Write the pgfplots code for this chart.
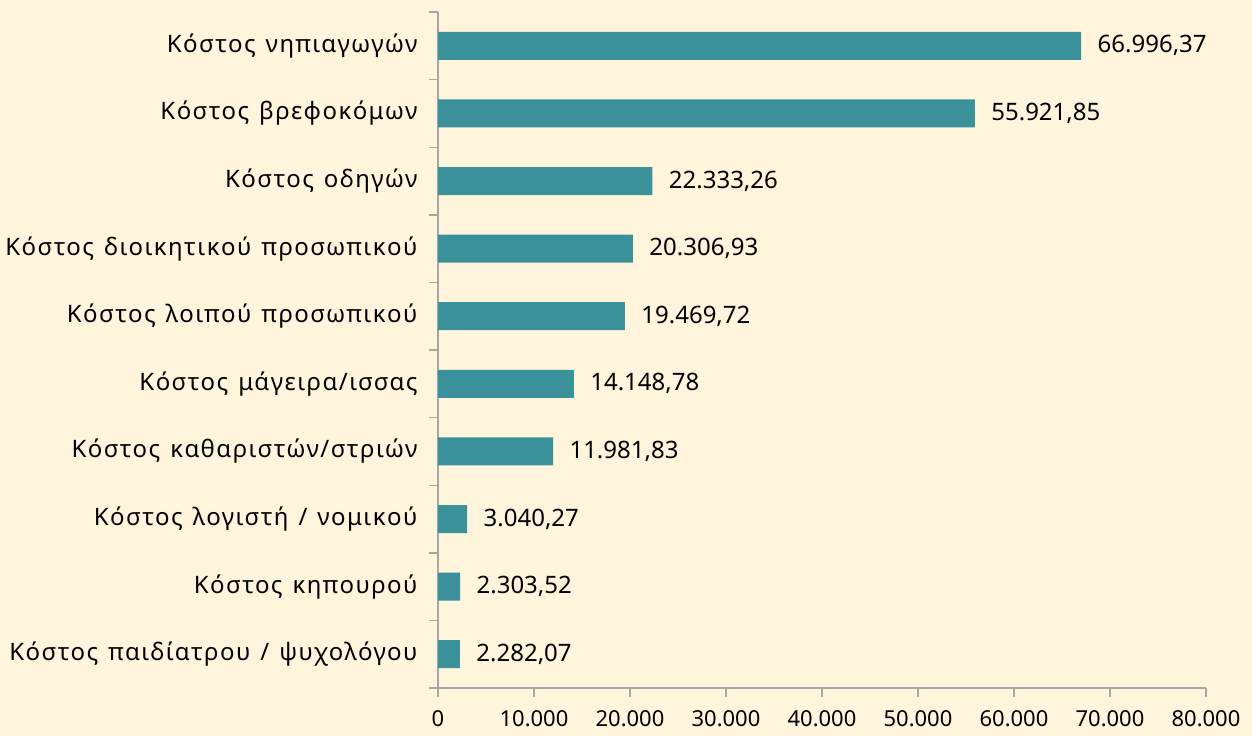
\documentclass[border=0pt]{standalone}
\usepackage{fontspec}
\setmainfont{Noto Sans}
\newfontfamily\labfont{Noto Sans}[LetterSpace=6,WordSpace=1.3]
\usepackage{pgfplots}
\pgfplotsset{compat=1.18}
\usepackage{pgfplotstable}
\definecolor{bg}{HTML}{FFF4DC}
\definecolor{barc}{HTML}{3A9199}
\definecolor{axc}{HTML}{A6A6A6}
\pgfplotstableread[col sep=comma]{
val,pos,lab
66996.37,0,{66.996,37}
55921.85,1,{55.921,85}
22333.26,2,{22.333,26}
20306.93,3,{20.306,93}
19469.72,4,{19.469,72}
14148.78,5,{14.148,78}
11981.83,6,{11.981,83}
3040.27,7,{3.040,27}
2303.52,8,{2.303,52}
2282.07,9,{2.282,07}
}\datatable
\begin{document}
\begin{tikzpicture}
\fill[bg] (-438bp,-48bp) rectangle (814bp,688bp);
\begin{axis}[
  at={(0,0)}, anchor=south west,
  scale only axis, width=768bp, height=676bp,
  xmin=0, xmax=80000, ymin=-0.5, ymax=9.5, y dir=reverse,
  axis x line*=bottom, axis y line*=left,
  axis line style={axc, line width=1.4bp, -},
  xtick={0,10000,...,80000},
  xticklabels={0,10.000,20.000,30.000,40.000,50.000,60.000,70.000,80.000},
  scaled x ticks=false,
  ytick={0,...,9},
  yticklabels={Κόστος νηπιαγωγών,Κόστος βρεφοκόμων,Κόστος οδηγών,Κόστος διοικητικού προσωπικού,Κόστος λοιπού προσωπικού,Κόστος μάγειρα/ισσας,Κόστος καθαριστών/στριών,Κόστος λογιστή / νομικού,Κόστος κηπουρού,Κόστος παιδίατρου / ψυχολόγου},
  minor ytick={-0.5,0.5,...,9.5},
  tick align=outside,
  major tick length=9bp, minor tick length=9bp,
  tick style={axc, line width=1.4bp},
  major y tick style={draw=none},
  xticklabel style={font=\fontsize{22bp}{26bp}\selectfont, text=black, yshift=-10bp},
  yticklabel style={font=\labfont\fontsize{24bp}{28bp}\selectfont, text=black, xshift=-8bp},
  xbar, bar width=28bp,
  point meta=explicit symbolic,
  nodes near coords,
  nodes near coords style={font=\fontsize{24bp}{28bp}\selectfont, text=black, anchor=west, xshift=13bp},
  clip=false,
]
\addplot[fill=barc, draw=none] table[x=val, y=pos, meta=lab] {\datatable};
\end{axis}
\end{tikzpicture}
\end{document}
